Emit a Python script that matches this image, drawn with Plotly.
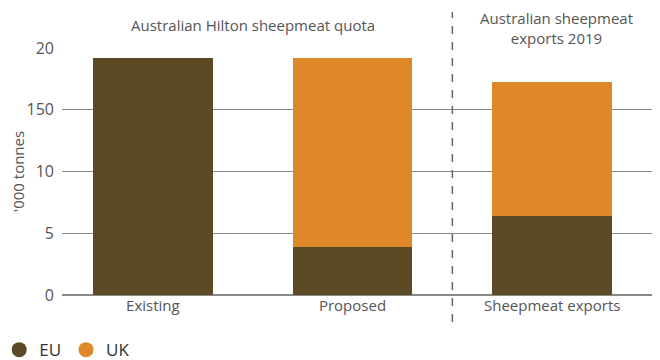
import plotly.graph_objects as go

categories = ["Existing", "Proposed", "Sheepmeat exports"]
eu_values = [19.2, 3.9, 6.4]
uk_values = [0.0, 15.3, 10.85]
y_tick_vals = [0, 5, 10, 15, 20]
y_tick_text = ["0", "5", "10", "150", "20"]
group_labels = ["Australian Hilton sheepmeat quota", "Australian sheepmeat<br>exports 2019"]

EU_COLOR = "#5c4a27"
UK_COLOR = "#de8829"
FONT = "Open Sans"

fig = go.Figure()
fig.add_trace(go.Bar(x=categories, y=eu_values, marker_color=EU_COLOR, width=0.6,
                     marker_line_width=0, showlegend=False, name="EU"))
fig.add_trace(go.Bar(x=categories, y=uk_values, marker_color=UK_COLOR, width=0.6,
                     marker_line_width=0, showlegend=False, name="UK"))
# legend entries with circle markers
fig.add_trace(go.Scatter(x=[None], y=[None], mode="markers", name="EU",
                         marker=dict(symbol="circle", size=15, color=EU_COLOR)))
fig.add_trace(go.Scatter(x=[None], y=[None], mode="markers", name="UK",
                         marker=dict(symbol="circle", size=15, color=UK_COLOR)))

fig.update_layout(
    barmode="stack",
    width=660, height=360,
    margin=dict(l=54, r=8, t=40, b=73, autoexpand=False),
    plot_bgcolor="white", paper_bgcolor="white",
    font=dict(family=FONT, size=15, color="#555555"),
    legend=dict(orientation="h", xref="paper", yref="paper",
                x=-0.105, xanchor="left", y=-0.223, yanchor="middle",
                traceorder="normal",
                font=dict(family="Open Sans", size=17, color="#333333"),
                itemwidth=30, tracegroupgap=0),
    xaxis=dict(type="category", range=[-0.455, 2.54], showgrid=False, showline=False,
               ticks="", automargin=False, tickfont=dict(size=15, color="#555555")),
    yaxis=dict(range=[0, 20], tickvals=y_tick_vals, ticktext=y_tick_text,
               showgrid=True, gridcolor="#8a8a8a", gridwidth=1,
               zeroline=True, zerolinecolor="#8a8a8a", zerolinewidth=1.5,
               showline=False, ticks="", ticklabelstandoff=7, automargin=False,
               tickfont=dict(size=16, color="#555555"),
               title=dict(text="'000 tonnes", font=dict(size=15, color="#555555"), standoff=4)),
)

fig.add_shape(type="line", xref="x", yref="paper", x0=1.5, x1=1.5, y0=-0.109, y1=1.146,
              line=dict(color="#666666", width=1.5, dash="8px,8px"))

fig.add_annotation(x=0.5, xref="x", y=1.093, yref="paper", text=group_labels[0],
                   showarrow=False, font=dict(size=15, color="#555555"), yanchor="middle")
fig.add_annotation(x=2.02, xref="x", y=1.081, yref="paper", text=group_labels[1],
                   showarrow=False, font=dict(size=15, color="#555555"), yanchor="middle")

fig.write_html("out.html")
